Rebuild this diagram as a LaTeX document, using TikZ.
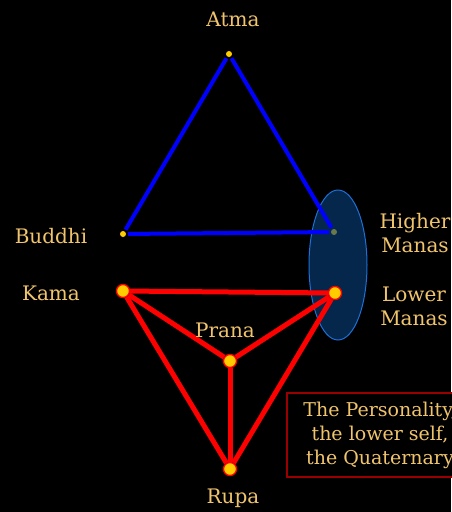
\documentclass[tikz,border=0pt]{standalone}
\usepackage{fontspec}
\setmainfont{DejaVu Serif}
\usetikzlibrary{positioning, shapes.geometric, calc}
\definecolor{cgold}{HTML}{F0C46C}
\definecolor{cblue}{HTML}{0000FF}
\definecolor{cred}{HTML}{FF0000}
\definecolor{cnavy}{HTML}{08427D}
\definecolor{cedge}{HTML}{1E70D8}
\definecolor{cdark}{HTML}{9A0000}
\definecolor{cyellow}{HTML}{FFCC00}
\tikzset{
  every picture/.style={font=\fontsize{20}{24}\selectfont, line width=4pt},
  lbl/.style={text=cgold, align=center},
  bigdot/.style={circle, draw=cred, fill=cyellow, line width=1.3pt, minimum size=13pt, inner sep=0pt},
  smalldot/.style={circle, fill=cyellow, minimum size=6pt, inner sep=0pt, outer sep=2pt},
  triad/.style={draw=cblue, line width=4pt},
  quad/.style={draw=cred, line width=5pt},
}

\begin{document}
\begin{tikzpicture}[x=1pt, y=-1pt]
  \fill[black] (0,0) rectangle (451,512);
  \useasboundingbox (0,0) rectangle (451,512);
  % upper triad
  \node[smalldot] (atma) at (229,54) {};
  \node[smalldot] (buddhi) at (123,234) {};
  \node[smalldot] (hmanas) at (334,232) {};
  \node[ellipse, draw=cedge, line width=1pt, fill=cnavy, fill opacity=0.6, minimum width=58pt, minimum height=150pt] (manas) at (338,265) {};
  \draw[triad] (buddhi) -- (atma);
  \draw[triad] (atma) -- (hmanas);
  \draw[triad] (buddhi) -- (hmanas);
  % lower quaternary
  \node[bigdot] (kama) at (123,291) {};
  \node[bigdot] (lmanas) at (335,293) {};
  \node[bigdot] (prana) at (230,361) {};
  \node[bigdot] (rupa) at (230,469) {};
  \foreach \a/\b in {kama/lmanas, kama/prana, lmanas/prana, prana/rupa, kama/rupa, lmanas/rupa}
    \draw[quad] (\a) -- (\b);
  % labels
  \node[lbl] (atmatxt) at (233,19) {Atma};
  \node[lbl] (buddhitxt) at (51,236) {Buddhi};
  \node[lbl] (kamatxt) at (51,293) {Kama};
  \node[lbl] (pranatxt) at (225,330) {Prana};
  \node[lbl] (rupatxt) at (233,498) {Rupa};
  \node[lbl] (hmanastxt) at (415,233) {Higher\\Manas};
  \node[lbl] (lmanastxt) at (414,306) {Lower\\Manas};
  \node[lbl, font=\fontsize{19}{24}\selectfont, draw=cdark, fill=black, line width=1.2pt, minimum width=186pt, minimum height=84pt] (persona) at (380,435) {The Personality,\\the lower self,\\the Quaternary};
\end{tikzpicture}
\end{document}
